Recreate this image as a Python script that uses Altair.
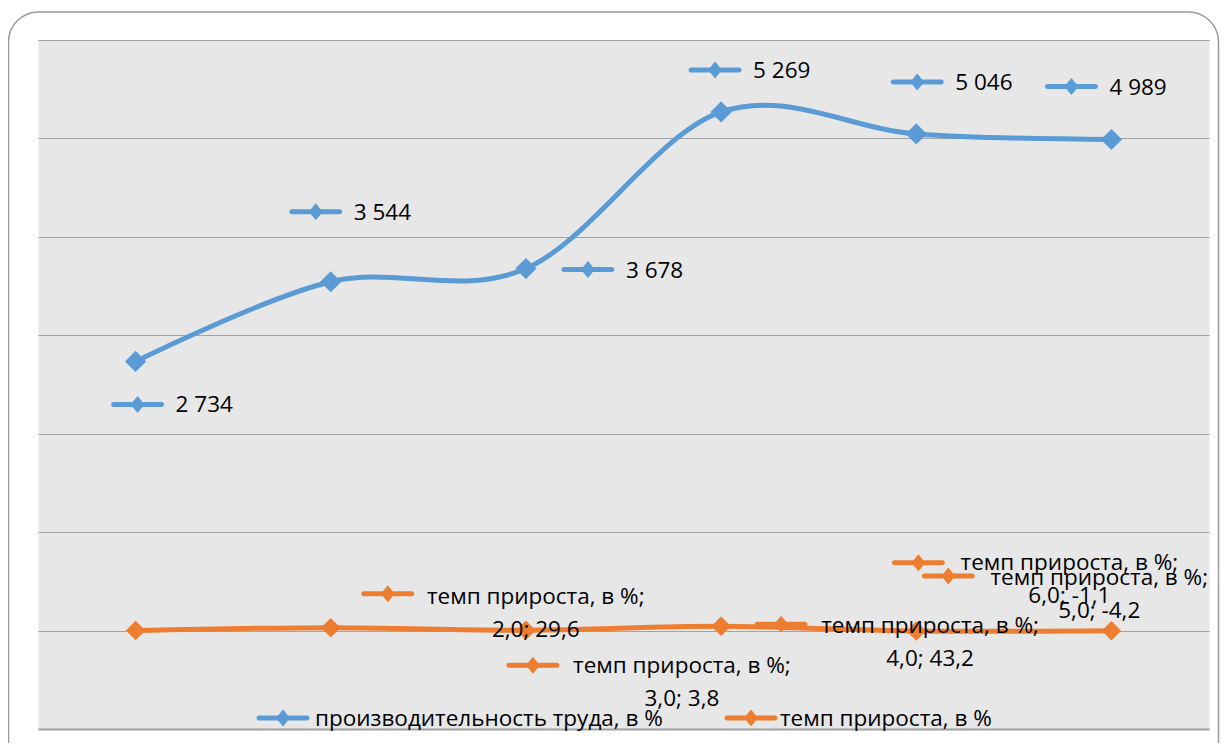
import altair as alt
import pandas as pd

# ---------------- data ----------------
categories = [1, 2, 3, 4, 5, 6]
productivity = [2734, 3544, 3678, 5269, 5046, 4989]
growth = [0.0, 29.6, 3.8, 43.2, -4.2, -1.1]
prod_labels = ["2 734", "3 544", "3 678", "5 269", "5 046", "4 989"]
growth_labels = ["", "2,0; 29,6", "3,0; 3,8", "4,0; 43,2", "5,0; -4,2", "6,0; -1,1"]
series_names = ["производительность труда, в %", "темп прироста, в %"]
growth_label_prefix = "темп прироста, в %;"
y_ticks = [-1000, 0, 1000, 2000, 3000, 4000, 5000, 6000]

# ---------------- layout / style ----------------
W, H = 1171, 689
BLUE, ORANGE = "#5b9bd5", "#ed7d31"
FONT = "Open Sans"
FS = 22.5
# pixel offsets of the (hand-placed) data labels relative to their point
prod_key_off = [(2, 43), (-15, -70), (62, 1), (-6, -42), (1, -52), (-40, -53)]
growth_key_off = [None, (57, -34), (7, 35), (60, -2), (32, -55), (-193, -68)]
growth_text_off = [None, (205, -31), (156, 36), (209, 0), (183, -53), (-42, -68)]
LINE2 = 33

KEY = ("M-2.4,-0.25L2.4,-0.25A0.25,0.25,0,0,1,2.4,0.25L-2.4,0.25"
       "A0.25,0.25,0,0,1,-2.4,-0.25Z M-0.7,0L0,-0.85L0.7,0L0,0.85Z")

df = pd.DataFrame({
    "cat": categories,
    "prod": productivity,
    "growth": growth,
    "prod_label": prod_labels,
    "growth_label": growth_labels,
})
df["prefix"] = growth_label_prefix

xs = alt.Scale(type="point", padding=0.5, domain=categories)
ys = alt.Scale(domain=[-1000, 6000], nice=False, zero=False)
AXX = alt.Axis(labels=False, ticks=False, title=None, domain=True, domainColor="#a0a0a0",
               domainWidth=2, grid=False)
AXY = alt.Axis(values=y_ticks, labels=False, ticks=False, domain=False, grid=True,
               gridColor="#a3a3a3", gridWidth=1.2, title=None)

X = alt.X("cat:O", scale=xs, axis=AXX)
YP = alt.Y("prod:Q", scale=ys, axis=AXY)
YG = alt.Y("growth:Q", scale=ys, axis=AXY)
base = alt.Chart(df)

blue_line = base.mark_line(color=BLUE, strokeWidth=5, interpolate="cardinal",
                           strokeCap="round").encode(x=X, y=YP)
blue_pts = base.mark_point(shape="diamond", size=450, filled=True, opacity=1,
                           color=BLUE).encode(x=X, y=YP)
orange_line = base.mark_line(color=ORANGE, strokeWidth=5, interpolate="cardinal",
                             strokeCap="round").encode(x=X, y=YG)
orange_pts = base.mark_point(shape="diamond", size=380, filled=True, opacity=1,
                             color=ORANGE).encode(x=X, y=YG)

layers = [blue_line, orange_line, blue_pts, orange_pts]

# data labels for productivity
for i, c in enumerate(categories):
    kdx, kdy = prod_key_off[i]
    one = base.transform_filter(alt.datum.cat == c)
    layers.append(one.mark_point(shape=KEY, size=400, filled=True, opacity=1, color=BLUE,
                                 strokeWidth=0, xOffset=kdx, yOffset=kdy).encode(x=X, y=YP))
    layers.append(one.mark_text(align="left", baseline="middle", dx=kdx + 38, dy=kdy + 1,
                                font=FONT, fontSize=FS, color="black").encode(
        x=X, y=YP, text="prod_label:N"))

# data labels for growth
for i, c in enumerate(categories):
    if growth_key_off[i] is None:
        continue
    kdx, kdy = growth_key_off[i]
    tdx, tdy = growth_text_off[i]
    one = base.transform_filter(alt.datum.cat == c)
    layers.append(one.mark_point(shape=KEY, size=400, filled=True, opacity=1, color=ORANGE,
                                 strokeWidth=0, xOffset=kdx, yOffset=kdy).encode(x=X, y=YG))
    layers.append(one.mark_text(align="center", baseline="middle", dx=tdx, dy=tdy,
                                font=FONT, fontSize=FS, color="black").encode(
        x=X, y=YG, text="prefix:N"))
    layers.append(one.mark_text(align="center", baseline="middle", dx=tdx, dy=tdy + LINE2,
                                font=FONT, fontSize=FS, color="black").encode(
        x=X, y=YG, text="growth_label:N"))

# legend (inside plot, bottom)
leg = pd.DataFrame({"name": series_names, "color": [BLUE, ORANGE],
                    "kx": [245, 713], "tx": [277, 742]})
for i in range(2):
    d = alt.Chart(leg.iloc[[i]])
    layers.append(d.mark_point(shape=KEY, size=400, filled=True, opacity=1,
                               color=leg["color"][i], strokeWidth=0).encode(
        x=alt.value(float(leg["kx"][i])), y=alt.value(678)))
    layers.append(d.mark_text(align="left", baseline="middle", font=FONT, fontSize=FS,
                              color="black").encode(
        x=alt.value(float(leg["tx"][i])), y=alt.value(679), text="name:N"))

# outer rounded frame
frame = alt.Chart(pd.DataFrame({"f": [0]})).mark_rect(
    fill="transparent", stroke="#9a9a9a", strokeWidth=1.5, cornerRadius=30
).encode(x=alt.value(-29.5), x2=alt.value(1180.5), y=alt.value(-28), y2=alt.value(745))
layers.append(frame)

chart = alt.layer(*layers).properties(
    width=W, height=H,
    autosize=alt.AutoSizeParams(type="none"),
    padding={"left": 30, "top": 32, "right": 11, "bottom": 14},
    background="white",
).configure_view(stroke="transparent", fill="#e7e7e7")

chart.save("out.html", embed_options={"renderer": "svg", "actions": False})
